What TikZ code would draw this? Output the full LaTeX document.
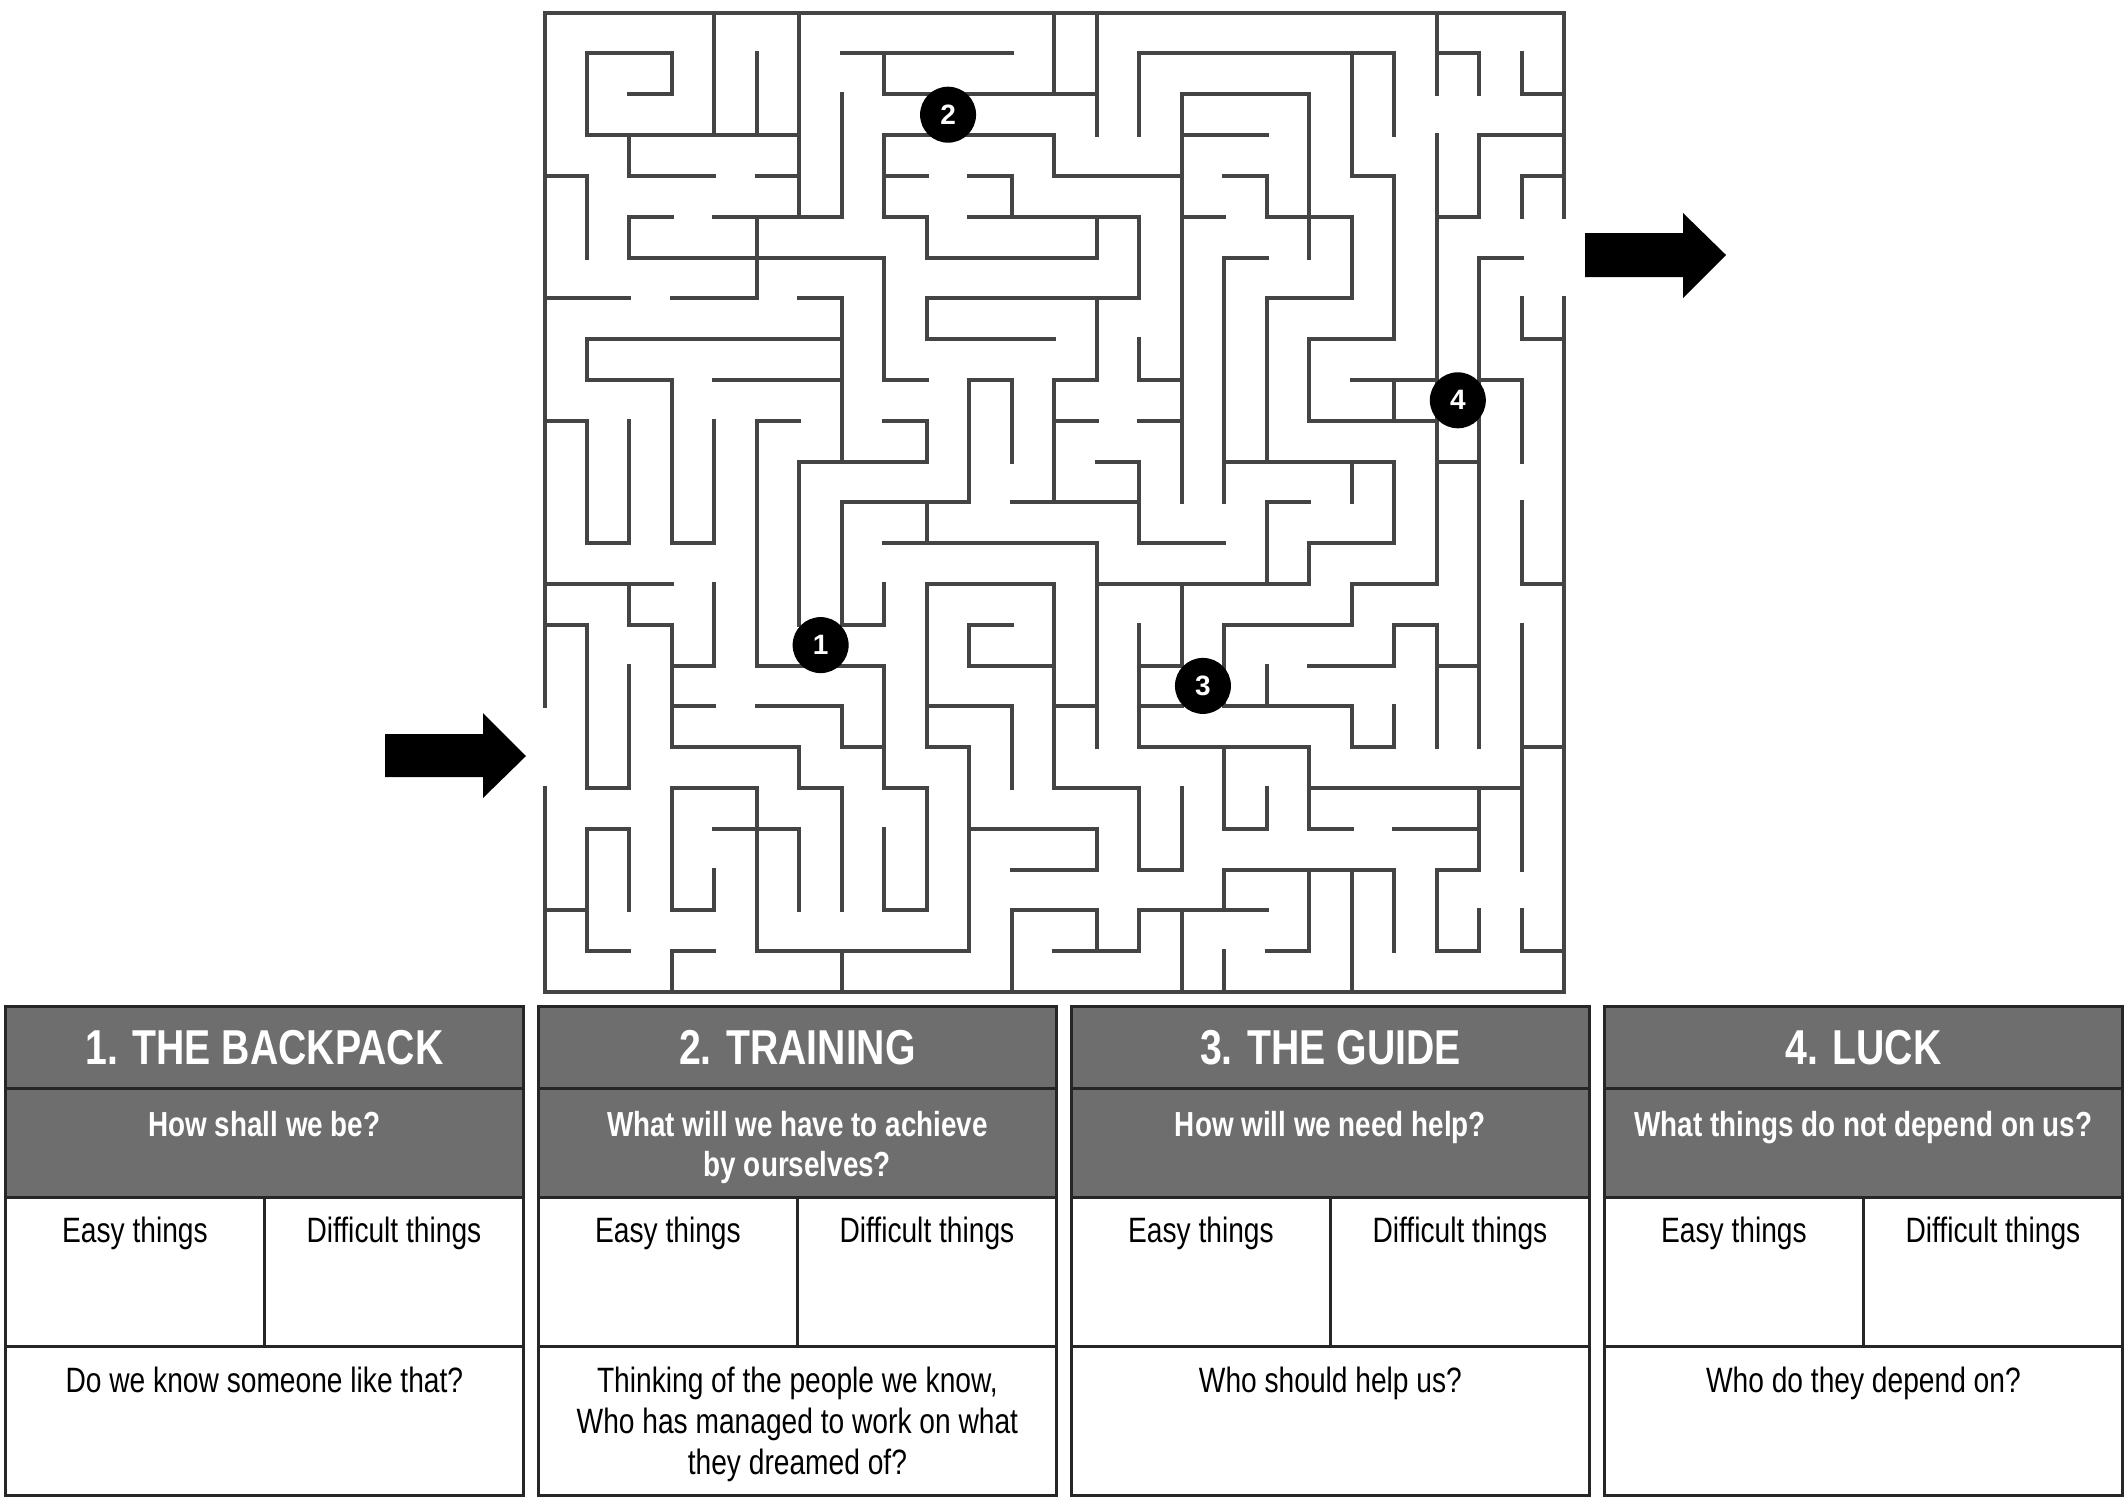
\documentclass[tikz,border=0pt]{standalone}
\usepackage{fontspec}
\newfontfamily\nf[FakeStretch=0.8]{Liberation Sans}
\newfontfamily\badgefont{Liberation Sans}
\definecolor{wallc}{HTML}{444444}
\definecolor{headc}{HTML}{6E6E6E}
\definecolor{linec}{HTML}{262626}
\tikzset{
  wall/.style={draw=wallc, line width=2pt, line cap=rect},
  tab/.style={draw=linec, line width=1.5pt},
  badge/.style={circle, fill=black, text=white, minimum size=28pt, inner sep=0pt,
    font=\badgefont\bfseries\fontsize{14}{15}\selectfont},
  hd/.style={anchor=base, text=white, inner sep=0pt, font=\nf\bfseries\fontsize{24.5}{28}\selectfont},
  sub/.style={anchor=base, text=white, inner sep=0pt, font=\nf\bfseries\fontsize{17.4}{20}\selectfont},
  txt/.style={anchor=base, text=black, inner sep=0pt, font=\nf\fontsize{17.6}{20}\selectfont},
}
\begin{document}
\begin{tikzpicture}[x=0.5pt,y=-0.5pt]
\useasboundingbox (0,0) rectangle (2128,1503);
\fill[white] (0,0) rectangle (2128,1503);

% ---------------- maze ----------------
\begin{scope}[shift={(272.25pt,-6.35pt)}, x=21.24pt, y=-20.4pt]
\foreach \j/\a/\b in {0/0/24, 24/0/24,
1/1/3, 1/7/11, 1/14/20, 1/21/22,
2/2/3, 2/8/13, 2/15/18, 2/23/24,
3/1/6, 3/8/12, 3/15/17, 3/22/24,
4/0/1, 4/2/4, 4/5/6, 4/8/9, 4/10/11, 4/12/15, 4/16/17, 4/19/20, 4/23/24,
5/2/3, 5/4/7, 5/8/9, 5/10/14, 5/15/16, 5/17/19, 5/21/22,
6/2/8, 6/9/13, 6/16/17, 6/22/23,
7/0/2, 7/3/5, 7/6/7, 7/9/14, 7/17/19,
8/1/7, 8/9/12, 8/18/20, 8/23/24,
9/1/3, 9/4/7, 9/8/9, 9/10/11, 9/12/13, 9/14/15, 9/19/21, 9/22/23,
10/0/1, 10/5/6, 10/8/9, 10/12/13, 10/14/15, 10/18/21,
11/6/9, 11/13/14, 11/16/20, 11/21/22,
12/7/10, 12/11/14, 12/17/18,
13/1/2, 13/3/4, 13/8/13, 13/14/16, 13/18/20,
14/0/3, 14/9/12, 14/13/18, 14/19/21, 14/23/24,
15/0/1, 15/2/3, 15/7/8, 15/10/11, 15/16/19, 15/20/21,
16/3/4, 16/5/8, 16/10/12, 16/14/15, 16/18/20, 16/21/22,
17/3/4, 17/5/7, 17/9/11, 17/12/13, 17/14/15, 17/16/19,
18/3/6, 18/7/8, 18/9/10, 18/14/18, 18/19/20, 18/23/24,
19/1/2, 19/3/5, 19/6/7, 19/8/9, 19/12/14, 19/18/23,
20/1/2, 20/4/6, 20/10/13, 20/16/17, 20/18/19, 20/20/22,
21/11/13, 21/14/15, 21/16/20, 21/21/22,
22/0/1, 22/3/4, 22/8/9, 22/11/13, 22/14/17,
23/1/2, 23/3/4, 23/5/10, 23/12/14, 23/17/18, 23/21/22, 23/23/24}
  \draw[wall] (\a,\j) -- (\b,\j);
\foreach \i/\a/\b in {0/0/17, 0/19/24, 24/0/5, 24/7/24,
1/1/3, 1/4/6, 1/8/9, 1/10/13, 1/15/19, 1/20/23,
2/3/4, 2/5/6, 2/10/13, 2/14/15, 2/16/19, 2/20/22,
3/1/2, 3/9/13, 3/15/18, 3/19/22, 3/23/24,
4/0/3, 4/10/13, 4/14/16, 4/21/22,
5/1/3, 5/5/7, 5/10/16, 5/19/23,
6/0/5, 6/11/15, 6/18/19, 6/20/22,
7/2/5, 7/7/11, 7/12/15, 7/17/18, 7/19/22, 7/23/24,
8/1/2, 8/3/5, 8/6/9, 8/14/15, 8/16/19, 8/20/22,
9/5/6, 9/7/8, 9/10/11, 9/12/13, 9/14/18, 9/19/22,
10/9/12, 10/15/16, 10/18/23,
11/4/5, 11/9/11, 11/17/19, 11/22/24,
12/0/2, 12/3/4, 12/9/12, 12/14/19,
13/0/3, 13/5/6, 13/7/9, 13/13/18, 13/20/21, 13/22/23,
14/1/3, 14/5/7, 14/8/9, 14/11/13, 14/15/18, 14/19/21, 14/22/23,
15/2/12, 15/14/16, 15/19/21, 15/22/24,
16/6/12, 16/15/17, 16/18/20, 16/21/22, 16/23/24,
17/4/5, 17/7/11, 17/12/14, 17/16/17, 17/19/20,
18/2/6, 18/8/10, 18/13/14, 18/18/20, 18/21/23,
19/1/4, 19/5/7, 19/11/12, 19/14/15, 19/17/18, 19/21/24,
20/1/3, 20/4/8, 20/9/10, 20/11/13, 20/15/16, 20/17/18, 20/21/23,
21/0/2, 21/3/14, 21/15/18, 21/21/23,
22/1/2, 22/3/5, 22/6/18, 22/19/21, 22/22/23,
23/1/2, 23/4/5, 23/7/8, 23/9/11, 23/12/14, 23/15/21, 23/22/23}
  \draw[wall] (\i,\a) -- (\i,\b);
\node[badge] (b1) at (6.5,15.5) {1};
\node[badge] (b2) at (9.5,2.5) {2};
\node[badge] (b3) at (15.5,16.5) {3};
\node[badge] (b4) at (21.5,9.5) {4};
\end{scope}

% ---------------- arrows ----------------
\fill[black] (385,734) -- (483,734) -- (483,713) -- (526,756) -- (483,798) -- (483,777) -- (385,777) -- cycle;
\fill[black] (1585,233) -- (1683,233) -- (1683,213) -- (1726,255) -- (1683,298) -- (1683,277) -- (1585,277) -- cycle;

% ---------------- table ----------------
\foreach \k in {0,1,2,3}{
  \pgfmathsetmacro\L{5.4+533*\k}
  \pgfmathsetmacro\R{\L+518}
  \pgfmathsetmacro\M{\L+259}
  \fill[headc] (\L,1006.5) rectangle (\R,1197);
  \draw[tab] (\L,1088) -- (\R,1088);
  \draw[tab] (\L,1197) -- (\R,1197);
  \draw[tab] (\L,1346.5) -- (\R,1346.5);
  \draw[tab] (\M,1197) -- (\M,1346.5);
  \draw[tab] (\L,1006.5) rectangle (\R,1495);
  \node[txt] (easy\k) at (\L+129.5,1242) {Easy things};
  \node[txt] (diff\k) at (\L+388.5,1242) {Difficult things};
}
\node[hd] (h1) at (264.4,1064) {1. THE BACKPACK};
\node[hd] (h2) at (797.4,1064) {2. TRAINING};
\node[hd] (h3) at (1330.4,1064) {3. THE GUIDE};
\node[hd] (h4) at (1863.4,1064) {4. LUCK};

\node[sub] (s1) at (264.4,1136) {How shall we be?};
\node[sub] (s2a) at (797.4,1136) {What will we have to achieve};
\node[sub] (s2b) at (797.4,1176.8) {by ourselves?};
\node[sub] (s3) at (1330.4,1136) {How will we need help?};
\node[sub] (s4) at (1863.4,1136) {What things do not depend on us?};

\node[txt] (q1) at (264.4,1392) {Do we know someone like that?};
\node[txt] (q2a) at (797.4,1392) {Thinking of the people we know,};
\node[txt] (q2b) at (797.4,1433) {Who has managed to work on what};
\node[txt] (q2c) at (797.4,1474) {they dreamed of?};
\node[txt] (q3) at (1330.4,1392) {Who should help us?};
\node[txt] (q4) at (1863.4,1392) {Who do they depend on?};
\end{tikzpicture}
\end{document}
